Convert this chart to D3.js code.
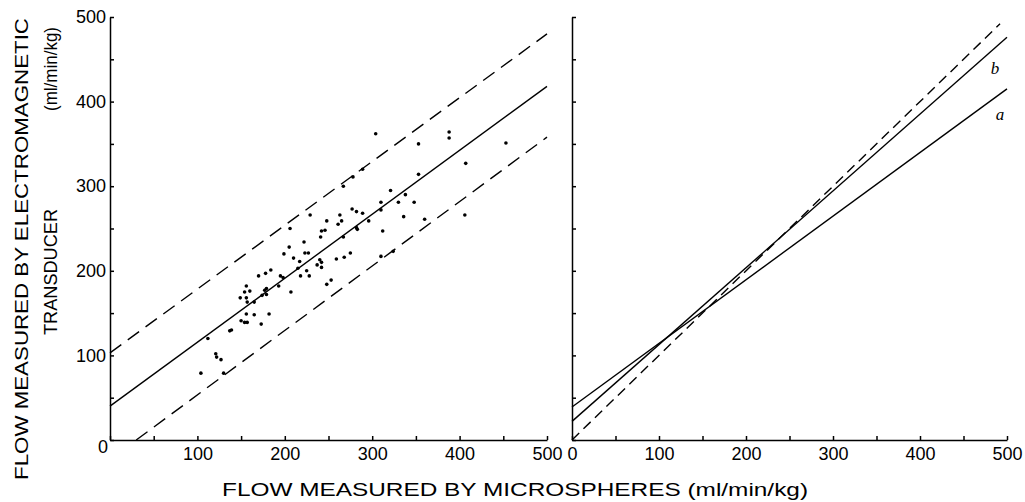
<!DOCTYPE html>
<html>
<head>
<meta charset="utf-8">
<script src="https://cdn.jsdelivr.net/npm/d3@7"></script>
<style>
  body { margin: 0; background: #fff; }
  svg { display: block; }
  .axis path, .axis line { stroke: #000; stroke-width: 1.5; }
  .axis text, .zero { font-family: "Liberation Sans", Arial, sans-serif; font-size: 18px; fill: #000; }
  .title { font-family: "Liberation Sans", Arial, sans-serif; font-size: 19px; fill: #000; }
  .tag { font-family: "Liberation Serif", serif; font-style: italic; font-size: 17px; }
</style>
</head>
<body>
<svg id="chart" width="1025" height="502"></svg>
<script>
// tick values (every 50, labels every 100)
const tickValues = [0, 50, 100, 150, 200, 250, 300, 350, 400, 450, 500];

// left panel: microsphere flow (x) vs electromagnetic flow (y)
const microX = [
  304, 353, 388, 388, 453,
  407, 406, 353, 321, 338, 348, 330, 310, 310, 336, 360, 312, 296, 289, 282,
  277, 282, 283, 267, 263, 265, 261, 248, 246, 242, 241, 222, 205, 199, 210,
  217, 223, 227, 240, 242, 237, 242, 259, 268, 275, 248, 253, 215, 218, 225,
  228, 195, 198, 184, 178, 170, 207, 193, 179, 177, 174, 179, 165, 156, 154,
  160, 149, 156, 157, 267, 278, 289, 310, 324, 206, 229,
  156, 165, 182, 150, 154, 157, 173, 137, 139, 112, 121, 122, 127, 104, 130
];
const emY = [
  362, 350, 364, 357, 351,
  327, 266, 314, 295, 290, 281, 281, 281, 272, 264, 261, 247, 259, 268, 270,
  273, 251, 249, 240, 266, 259, 255, 259, 248, 247, 240, 234, 228, 220, 215,
  211, 221, 221, 213, 210, 207, 204, 214, 216, 221, 184, 189, 203, 194, 200,
  194, 194, 192, 201, 197, 194, 175, 182, 179, 177, 171, 172, 163, 182, 175,
  176, 168, 168, 163, 300, 311, 320, 217, 223, 250, 266,
  149, 148, 149, 141, 139, 139, 137, 129, 130, 120, 102, 98, 95, 79, 79
];

// left panel regression line and limits
const fitLine = [[0, 40], [500, 418]];
const upperLimit = [[0, 103], [500, 480]];
const lowerLimit = [[30, 0], [500, 358]];

// right panel lines
const lineA = [[0, 39], [500, 415]];
const lineB = [[0, 22], [500, 476]];
const identity = [[0, 0], [492, 492]];

const svg = d3.select("#chart");

const xLeft = d3.scaleLinear().domain([0, 500]).range([110, 547]);
const xRight = d3.scaleLinear().domain([0, 500]).range([572, 1007]);
const y = d3.scaleLinear().domain([0, 500]).range([440, 17]);

function drawAxes(x, showZero) {
  svg.append("g")
    .attr("class", "axis")
    .attr("transform", `translate(0,${y(0)})`)
    .call(d3.axisBottom(x)
      .tickValues(tickValues)
      .tickSizeInner(-4)
      .tickSizeOuter(0)
      .tickPadding(7)
      .tickFormat(d => (d % 100 === 0 && (d > 0 || showZero)) ? d : ""));

  svg.append("g")
    .attr("class", "axis")
    .attr("transform", `translate(${x(0)},0)`)
    .call(d3.axisLeft(y)
      .tickValues(tickValues)
      .tickSizeInner(-4)
      .tickSizeOuter(0)
      .tickPadding(4)
      .tickFormat(d => (!showZero && d % 100 === 0 && d > 0) ? d : ""));
}

drawAxes(xLeft, false);
drawAxes(xRight, true);

// shared zero at the left origin
svg.append("text")
  .attr("class", "zero")
  .attr("x", xLeft(0) - 7)
  .attr("y", y(0) + 13)
  .attr("text-anchor", "middle")
  .text("0");

const lineL = d3.line().x(d => xLeft(d[0])).y(d => y(d[1]));
const lineR = d3.line().x(d => xRight(d[0])).y(d => y(d[1]));

function path(gen, data, dash) {
  svg.append("path")
    .attr("d", gen(data))
    .attr("fill", "none")
    .attr("stroke", "#000")
    .attr("stroke-width", 1.4)
    .attr("stroke-dasharray", dash || null);
}

path(lineL, fitLine);
path(lineL, upperLimit, "14,8");
path(lineL, lowerLimit, "14,8");

svg.append("g")
  .selectAll("circle")
  .data(microX.map((v, i) => [v, emY[i]]))
  .join("circle")
  .attr("cx", d => xLeft(d[0]))
  .attr("cy", d => y(d[1]))
  .attr("r", 1.8)
  .attr("fill", "#000");

path(lineR, lineA);
path(lineR, lineB);
path(lineR, identity, "10,6");

svg.append("text").attr("class", "tag")
  .attr("x", 995).attr("y", 74)
  .attr("text-anchor", "middle")
  .text("b");
svg.append("text").attr("class", "tag")
  .attr("x", 1000).attr("y", 120)
  .attr("text-anchor", "middle")
  .text("a");

// axis titles
svg.append("text")
  .attr("class", "title")
  .attr("x", 515).attr("y", 496)
  .attr("text-anchor", "middle")
  .attr("textLength", 586)
  .attr("lengthAdjust", "spacingAndGlyphs")
  .text("FLOW MEASURED BY MICROSPHERES (ml/min/kg)");

svg.append("text")
  .attr("class", "title")
  .attr("transform", "translate(28,249) rotate(-90)")
  .attr("text-anchor", "middle")
  .attr("textLength", 462)
  .attr("lengthAdjust", "spacingAndGlyphs")
  .text("FLOW MEASURED BY ELECTROMAGNETIC");

svg.append("text")
  .attr("class", "title")
  .attr("transform", "translate(57,272) rotate(-90)")
  .attr("text-anchor", "middle")
  .attr("textLength", 126)
  .attr("lengthAdjust", "spacingAndGlyphs")
  .text("TRANSDUCER");

svg.append("text")
  .attr("class", "title")
  .attr("transform", "translate(57,69) rotate(-90)")
  .attr("text-anchor", "middle")
  .attr("textLength", 84)
  .attr("lengthAdjust", "spacingAndGlyphs")
  .text("(ml/min/kg)");
</script>
</body>
</html>
